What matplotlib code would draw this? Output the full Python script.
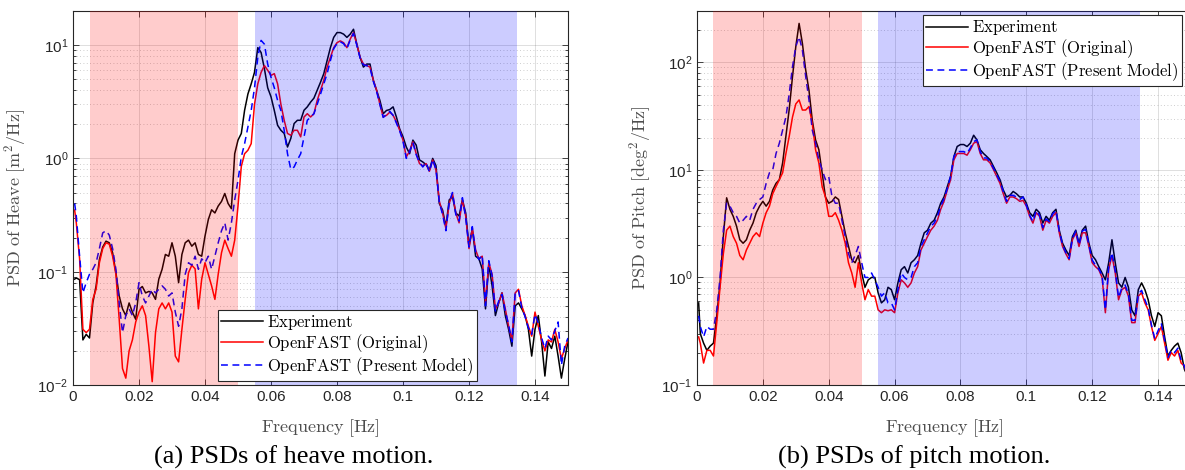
import numpy as np
import matplotlib
matplotlib.use('Agg')
import matplotlib.pyplot as plt
from matplotlib import ticker

plt.rcParams['font.family'] = ['Liberation Sans', 'DejaVu Sans']
plt.rcParams['mathtext.fontset'] = 'cm'

# frequency grid [Hz] (0.0005, then 0.001 ... 0.150)
freq = np.concatenate([[0.0005], np.round(np.arange(1, 151) * 0.001, 3)])

# PSD of heave [m^2/Hz]
heave_exp = [0.086, 0.088, 0.085, 0.025, 0.028, 0.026, 0.053, 0.075, 0.128, 0.165,
             0.186, 0.18, 0.147, 0.098, 0.061, 0.047, 0.041, 0.053, 0.044, 0.038,
             0.070, 0.074, 0.065, 0.067, 0.065, 0.057, 0.086, 0.105, 0.142, 0.137,
             0.18, 0.137, 0.08, 0.142, 0.18, 0.19, 0.168, 0.18, 0.142, 0.137,
             0.206, 0.288, 0.352, 0.33, 0.38, 0.417, 0.49, 0.40, 0.36, 1.1,
             1.45, 1.66, 2.66, 3.7, 4.55, 5.75, 9.5, 8.6, 6.2, 4.2,
             3.5, 2.65, 1.96, 1.77, 1.66, 1.26, 1.5, 2.03, 2.17, 2.17,
             2.66, 2.85, 3.14, 3.4, 4.0, 4.7, 5.6, 7.3, 9.5, 11.7,
             12.9, 12.9, 12.5, 11.7, 12.5, 13.8, 10.2, 7.8, 6.4, 6.8,
             6.8, 4.9, 4.0, 3.25, 2.48, 2.65, 2.7, 2.85, 2.32, 1.82,
             1.55, 1.26, 1.1, 1.45, 1.31, 0.97, 0.93, 0.88, 0.79, 1.0,
             0.86, 0.40, 0.35, 0.25, 0.43, 0.46, 0.33, 0.31, 0.43, 0.33,
             0.168, 0.24, 0.137, 0.13, 0.106, 0.047, 0.115, 0.075, 0.041, 0.053,
             0.065, 0.041, 0.031, 0.022, 0.050, 0.053, 0.047, 0.041, 0.031, 0.018,
             0.031, 0.041, 0.024, 0.012, 0.024, 0.021, 0.027, 0.018, 0.0115, 0.017,
             0.024]
heave_orig = [0.35, 0.27, 0.13, 0.031, 0.029, 0.031, 0.057, 0.070, 0.12, 0.16,
              0.18, 0.175, 0.137, 0.095, 0.038, 0.014, 0.0115, 0.02, 0.025, 0.036,
              0.044, 0.050, 0.041, 0.022, 0.0107, 0.029, 0.047, 0.053, 0.047, 0.053,
              0.044, 0.018, 0.016, 0.031, 0.057, 0.098, 0.114, 0.106, 0.047, 0.086,
              0.12, 0.095, 0.075, 0.057, 0.095, 0.147, 0.19, 0.16, 0.137, 0.19,
              0.38, 0.85, 1.1, 1.18, 1.35, 3.0, 4.55, 5.75, 6.6, 6.0,
              5.4, 5.6, 4.55, 3.0, 2.17, 1.66, 1.6, 1.77, 1.77, 1.55,
              2.32, 2.48, 2.32, 2.48, 3.25, 4.0, 4.9, 6.4, 7.8, 9.5,
              10.5, 10.9, 10.5, 9.5, 11.3, 12.9, 10.2, 7.8, 6.8, 6.6,
              6.4, 4.9, 4.0, 3.0, 2.32, 2.4, 2.56, 2.4, 2.1, 1.77,
              1.45, 1.03, 1.16, 1.4, 1.1, 0.90, 0.86, 0.90, 0.77, 0.97,
              0.79, 0.42, 0.33, 0.24, 0.40, 0.49, 0.33, 0.27, 0.43, 0.31,
              0.16, 0.24, 0.156, 0.13, 0.137, 0.053, 0.12, 0.095, 0.047, 0.053,
              0.065, 0.047, 0.033, 0.025, 0.065, 0.070, 0.050, 0.041, 0.033, 0.027,
              0.044, 0.033, 0.025, 0.020, 0.025, 0.024, 0.031, 0.024, 0.017, 0.021,
              0.025]
heave_model = [0.40, 0.31, 0.137, 0.065, 0.080, 0.095, 0.105, 0.12, 0.16, 0.22,
               0.23, 0.21, 0.16, 0.105, 0.053, 0.029, 0.041, 0.047, 0.041, 0.053,
               0.08, 0.061, 0.053, 0.061, 0.07, 0.065, 0.07, 0.075, 0.07, 0.061,
               0.065, 0.044, 0.033, 0.047, 0.095, 0.12, 0.114, 0.137, 0.105, 0.13,
               0.12, 0.137, 0.105, 0.137, 0.18, 0.23, 0.27, 0.19, 0.27, 0.43,
               0.64, 1.03, 1.35, 1.9, 2.65, 4.2, 7.8, 11.0, 10.2, 6.8,
               5.2, 4.2, 3.25, 2.65, 1.77, 1.1, 0.80, 0.84, 0.97, 1.1,
               1.55, 2.17, 2.32, 2.48, 3.0, 3.7, 4.55, 5.6, 7.3, 9.3,
               10.3, 10.7, 10.3, 9.3, 11.1, 12.7, 10.0, 7.7, 6.7, 6.6,
               6.3, 4.8, 3.9, 3.0, 2.3, 2.45, 2.6, 2.4, 2.05, 1.75,
               1.42, 1.0, 1.15, 1.38, 1.08, 0.92, 0.84, 0.92, 0.76, 0.98,
               0.80, 0.41, 0.32, 0.23, 0.41, 0.50, 0.32, 0.28, 0.45, 0.30,
               0.165, 0.25, 0.15, 0.128, 0.14, 0.05, 0.125, 0.092, 0.045, 0.055,
               0.063, 0.045, 0.034, 0.024, 0.066, 0.068, 0.048, 0.040, 0.032, 0.028,
               0.042, 0.035, 0.026, 0.021, 0.027, 0.025, 0.030, 0.036, 0.015, 0.022,
               0.026]

# PSD of pitch [deg^2/Hz]
pitch_exp = [0.58, 0.30, 0.245, 0.21, 0.23, 0.245, 0.44, 0.89, 2.4, 5.5,
             4.3, 3.7, 3.0, 2.24, 2.08, 2.24, 2.75, 3.2, 4.0, 4.6,
             5.1, 4.6, 5.1, 6.5, 7.5, 8.1, 11.6, 20.5, 36.6, 73.6,
             140, 230, 150, 85, 55, 29, 19, 15.4, 9.4, 5.6,
             4.9, 5.1, 5.6, 5.3, 3.7, 2.6, 1.94, 1.46, 1.37, 1.6,
             1.1, 0.81, 0.95, 1.0, 1.0, 0.72, 0.58, 0.62, 0.81, 0.77,
             0.62, 0.89, 1.18, 1.26, 1.1, 1.37, 1.46, 1.6, 2.08, 2.6,
             2.75, 3.2, 3.4, 4.0, 4.9, 5.6, 7.0, 8.7, 13.3, 16.5,
             17.2, 17.2, 16.5, 17.7, 21.0, 19.0, 15.4, 14.2, 13.3, 12.4,
             10.8, 9.4, 8.1, 6.5, 5.6, 5.8, 6.3, 6.0, 5.6, 5.6,
             4.9, 4.0, 3.7, 4.3, 4.0, 3.2, 3.7, 3.4, 4.0, 4.3,
             2.75, 2.08, 1.8, 1.6, 2.4, 2.75, 2.08, 2.75, 3.0, 2.08,
             1.6, 1.46, 1.26, 1.1, 0.95, 1.37, 2.24, 1.37, 0.89, 0.81,
             1.0, 0.81, 0.50, 0.44, 0.77, 0.89, 0.77, 0.62, 0.44, 0.35,
             0.47, 0.44, 0.28, 0.186, 0.21, 0.23, 0.245, 0.2, 0.14, 0.12,
             0.10]
pitch_orig = [0.28, 0.245, 0.16, 0.21, 0.21, 0.186, 0.38, 0.81, 1.66, 2.75,
              3.0, 2.4, 2.08, 1.6, 1.46, 1.8, 2.08, 2.4, 2.6, 2.4,
              3.2, 4.0, 4.6, 6.0, 7.0, 8.1, 9.4, 14.2, 20.5, 31,
              41, 44.7, 36, 36, 38.8, 27, 15.4, 11.6, 7.0, 5.6,
              3.7, 3.7, 4.0, 3.4, 2.75, 2.08, 1.37, 1.1, 0.81, 1.37,
              0.89, 0.62, 0.77, 0.67, 0.67, 0.50, 0.47, 0.50, 0.49, 0.50,
              0.47, 0.72, 0.95, 0.89, 0.81, 0.89, 1.1, 1.26, 1.8, 2.08,
              2.4, 2.75, 3.0, 3.4, 4.3, 5.1, 6.5, 8.1, 12.4, 14.2,
              14.2, 14.2, 13.7, 15.4, 17.7, 18.3, 14.2, 12.4, 12.4, 11.6,
              10.1, 8.7, 7.5, 6.0, 4.9, 5.6, 5.6, 5.4, 5.1, 5.2,
              4.6, 3.7, 3.2, 4.0, 3.7, 2.75, 3.4, 3.2, 3.7, 4.0,
              2.6, 1.94, 1.66, 1.46, 2.24, 2.6, 1.94, 2.6, 2.6, 1.94,
              1.37, 1.26, 1.18, 1.0, 0.47, 1.18, 1.6, 1.1, 0.62, 0.77,
              0.81, 0.67, 0.38, 0.38, 0.67, 0.72, 0.58, 0.50, 0.35, 0.26,
              0.30, 0.35, 0.245, 0.17, 0.2, 0.186, 0.21, 0.16, 0.15, 0.12,
              0.10]
pitch_model = [0.44, 0.35, 0.28, 0.35, 0.33, 0.33, 0.50, 1.0, 2.75, 4.9,
               4.6, 4.0, 3.7, 3.2, 3.4, 3.7, 3.4, 4.3, 4.9, 5.3,
               5.6, 7.5, 9.4, 10, 14.2, 17.7, 23.5, 31, 51, 91,
               140, 173, 130, 74, 44.7, 23.5, 17.7, 12.4, 10, 8.1,
               8.7, 5.6, 4.9, 4.9, 3.4, 2.4, 1.66, 1.37, 1.6, 1.94,
               1.37, 1.0, 1.0, 1.1, 0.95, 0.81, 0.67, 0.72, 0.58, 0.58,
               0.50, 0.77, 1.1, 1.0, 0.95, 1.0, 1.26, 1.37, 1.94, 2.24,
               2.6, 3.0, 3.2, 3.7, 4.6, 5.4, 6.7, 8.7, 13.3, 14.8,
               14.8, 14.8, 14.2, 16.0, 18.3, 19.0, 14.8, 12.9, 12.9, 11.9,
               10.4, 9.0, 7.8, 6.3, 5.1, 5.8, 5.8, 5.6, 5.3, 5.6,
               4.7, 3.8, 3.3, 4.2, 3.8, 2.9, 3.5, 3.3, 3.9, 4.2,
               2.7, 2.0, 1.7, 1.5, 2.3, 2.7, 2.0, 2.7, 2.8, 2.0,
               1.45, 1.3, 1.2, 1.05, 0.5, 1.25, 1.7, 1.15, 0.65, 0.8,
               0.85, 0.70, 0.40, 0.40, 0.70, 0.76, 0.62, 0.52, 0.36, 0.27,
               0.32, 0.37, 0.26, 0.18, 0.21, 0.20, 0.22, 0.17, 0.15, 0.12,
               0.10]

labels = ['Experiment', 'OpenFAST (Original)', 'OpenFAST (Present Model)']
red_band = (0.005, 0.05)
blue_band = (0.055, 0.1345)

dark = '#262626'
W, H = 1185, 470
fig = plt.figure(figsize=(W / 100, H / 100), dpi=100)
ax1 = fig.add_axes([73 / W, 85 / H, 495 / W, 374 / H])
ax2 = fig.add_axes([697 / W, 85 / H, 494 / W, 374 / H])


def tex(s):
    return r'$\mathrm{' + s.replace(' ', r'\ ') + '}$'


def draw(ax, exp, orig, model, ylim, ylabel):
    ax.plot(freq, exp, color='black', lw=1.1, zorder=2, label=tex(labels[0]))
    ax.plot(freq, orig, color='red', lw=1.1, zorder=2, label=tex(labels[1]))
    ax.plot(freq, model, color='blue', lw=1.1, ls=(0, (4.5, 3)), zorder=2, label=tex(labels[2]))
    ax.axvspan(*red_band, color='red', alpha=0.2, lw=0, zorder=3)
    ax.axvspan(*blue_band, color='blue', alpha=0.2, lw=0, zorder=3)
    ax.set_yscale('log')
    ax.set_xlim(0, 0.15)
    ax.set_ylim(*ylim)
    ax.set_xticks([0, 0.02, 0.04, 0.06, 0.08, 0.1, 0.12, 0.14])
    ax.xaxis.set_major_formatter(ticker.FuncFormatter(lambda v, p: f'{v:g}'))
    ax.xaxis.set_minor_locator(ticker.NullLocator())
    ax.grid(True, which='major', color=dark, alpha=0.15, lw=0.7, zorder=0)
    ax.grid(True, which='minor', axis='y', color=dark, alpha=0.3, lw=0.6, ls=(0, (1, 3)), zorder=0)
    ax.set_axisbelow(True)
    ax.tick_params(which='both', direction='in', top=True, right=True, colors=dark,
                   labelsize=11, width=0.6)
    ax.tick_params(which='major', length=4.5)
    ax.tick_params(which='minor', length=2.5)
    for s in ax.spines.values():
        s.set_color(dark)
        s.set_linewidth(0.8)
    ax.set_xlabel(tex('Frequency [Hz]'), fontsize=13, color='#4d4d4d')
    ax.set_ylabel(ylabel, fontsize=13, color='#4d4d4d')
    ax.xaxis.set_label_coords(0.5, -0.086)


draw(ax1, heave_exp, heave_orig, heave_model, (1e-2, 20),
     r'$\mathrm{PSD\ of\ Heave\ [m^2/Hz]}$')
draw(ax2, pitch_exp, pitch_orig, pitch_model, (1e-1, 300),
     r'$\mathrm{PSD\ of\ Pitch\ [deg^2/Hz]}$')
ax1.yaxis.set_label_coords(-0.091, 0.5)
ax2.yaxis.set_label_coords(-0.089, 0.5)

leg_kw = dict(fontsize=12, borderaxespad=0, borderpad=0.2, labelspacing=0.0,
              handlelength=2.5, handletextpad=0.25, fancybox=False, framealpha=1,
              edgecolor=dark)
l1 = ax1.legend(loc='lower right', bbox_to_anchor=(0.816, 0.011), **leg_kw)
l2 = ax2.legend(loc='upper left', bbox_to_anchor=(0.4575, 0.989), **leg_kw)
for lg in (l1, l2):
    lg.get_frame().set_linewidth(0.8)
    lg.set_zorder(5)

fig.text(294 / W, 1 - 457 / H, '(a) PSDs of heave motion.', ha='center', va='center',
         family='Liberation Serif', fontsize=19)
fig.text(914 / W, 1 - 457 / H, '(b) PSDs of pitch motion.', ha='center', va='center',
         family='Liberation Serif', fontsize=19)

fig.savefig('out.png', dpi=100)
